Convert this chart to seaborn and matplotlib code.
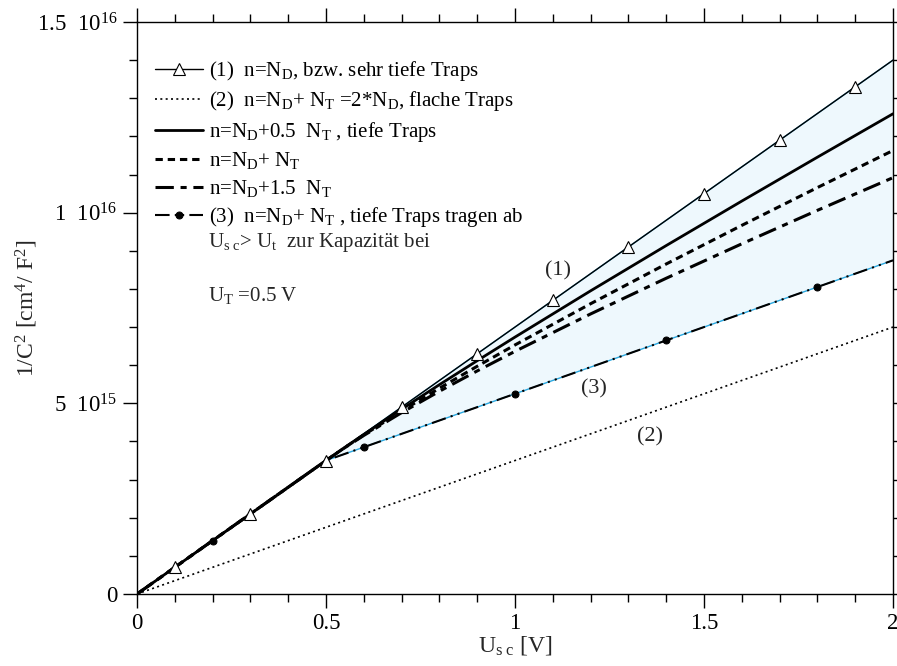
import numpy as np
import pandas as pd
import matplotlib
matplotlib.use("Agg")
import matplotlib.pyplot as plt
from matplotlib.ticker import MultipleLocator
import seaborn as sns

# ---- data (1/C^2 in units of 1e15 cm^4/F^2, U_sc in V) ----
x_nd = [0.0, 0.1, 0.3, 0.5, 0.7, 0.9, 1.1, 1.3, 1.5, 1.7, 1.9, 2.0]
y_nd = [0.0, 0.7, 2.1, 3.5, 4.9, 6.3, 7.7, 9.1, 10.5, 11.9, 13.3, 14.0]

x_flat = [0.0, 2.0]
y_flat = [0.0, 7.0]

x_deep = [0.0, 0.5, 0.55, 0.6, 0.7, 0.8, 0.9, 1.0, 1.2, 1.4, 1.6, 1.8, 2.0]
y_05 = [0.0, 3.5, 3.846, 4.185, 4.845, 5.489, 6.118, 6.737, 7.950, 9.137, 10.304, 11.455, 12.593]
y_10 = [0.0, 3.5, 3.842, 4.171, 4.798, 5.396, 5.972, 6.531, 7.612, 8.654, 9.667, 10.658, 11.630]
y_15 = [0.0, 3.5, 3.838, 4.158, 4.756, 5.316, 5.850, 6.363, 7.344, 8.280, 9.183, 10.061, 10.918]

x_3 = [0.0, 0.2, 0.5, 0.6, 1.0, 1.4, 1.8, 2.0]
y_3 = [0.0, 1.4, 3.5, 3.85, 5.25, 6.65, 8.05, 8.75]

labels = [
    r"(1)  n=N$_\mathrm{D}$, bzw. sehr tiefe Traps",
    r"(2)  n=N$_\mathrm{D}$+ N$_\mathrm{T}$ =2*N$_\mathrm{D}$, flache Traps",
    r"n=N$_\mathrm{D}$+0.5  N$_\mathrm{T}$ , tiefe Traps",
    r"n=N$_\mathrm{D}$+ N$_\mathrm{T}$",
    r"n=N$_\mathrm{D}$+1.5  N$_\mathrm{T}$",
    r"(3)  n=N$_\mathrm{D}$+ N$_\mathrm{T}$ , tiefe Traps tragen ab",
]
SCALE = 1e15

sns.set_style("ticks")
plt.rcParams["font.family"] = ["Liberation Serif", "DejaVu Serif"]
plt.rcParams["mathtext.fontset"] = "custom"
plt.rcParams["mathtext.rm"] = "Liberation Serif"
plt.rcParams["mathtext.it"] = "Liberation Serif:italic"
plt.rcParams["mathtext.bf"] = "Liberation Serif:bold"

fig = plt.figure(figsize=(8.97, 6.66), dpi=100)
ax = fig.add_axes([137 / 897, 72 / 666, 756 / 897, 572 / 666])

def df(x, y):
    return pd.DataFrame({"x": np.asarray(x, float), "y": np.asarray(y, float) * SCALE})

cyan = "#2aa8e0"
fillc = "#eef8fd"

# shaded region between (1) and (3) for U > U_T
xf = np.asarray(x_3[2:], float)
up = np.interp(xf, x_nd, y_nd) * SCALE
lo = np.asarray(y_3[2:], float) * SCALE
ax.fill_between(xf, lo, up, facecolor=fillc, edgecolor="none", zorder=1)
sns.lineplot(data=df(xf, np.interp(xf, x_nd, y_nd)), x="x", y="y", ax=ax, color=cyan, lw=1.0, zorder=2)
sns.lineplot(data=df(xf, y_3[2:]), x="x", y="y", ax=ax, color=cyan, lw=1.0, zorder=2)

sns.lineplot(data=df(x_nd, y_nd), x="x", y="y", ax=ax, color="black", lw=1.0,
             marker="^", markersize=8, markerfacecolor="white", markeredgecolor="black",
             markeredgewidth=0.8, markevery=list(range(1, 11)), label=labels[0], zorder=5)
sns.lineplot(data=df(x_flat, y_flat), x="x", y="y", ax=ax, color="black", lw=1.2,
             linestyle=(0, (1.2, 2.0)), label=labels[1], zorder=4)
sns.lineplot(data=df(x_deep, y_05), x="x", y="y", ax=ax, color="black", lw=2.0,
             label=labels[2], zorder=4)
sns.lineplot(data=df(x_deep, y_10), x="x", y="y", ax=ax, color="black", lw=2.2,
             linestyle=(0, (2.4, 1.6)), label=labels[3], zorder=4)
sns.lineplot(data=df(x_deep, y_15), x="x", y="y", ax=ax, color="black", lw=2.2,
             linestyle=(0, (6, 2.2, 2, 2.2)), label=labels[4], zorder=4)
sns.lineplot(data=df(x_3, y_3), x="x", y="y", ax=ax, color="black", lw=1.5,
             linestyle=(0, (7, 2.5, 1, 2.5, 1, 2.5)), marker="o", markersize=5,
             markerfacecolor="black", markeredgecolor="black",
             markevery=[1, 3, 4, 5, 6], label=labels[5], zorder=4)

ax.set_xlim(0, 2)
ax.set_ylim(0, 1.5e16)
ax.xaxis.set_major_locator(MultipleLocator(0.5))
ax.xaxis.set_minor_locator(MultipleLocator(0.1))
ax.set_xticks([0, 0.5, 1, 1.5, 2], ["0", "0.5", "1", "1.5", "2"])
ax.set_yticks([0, 5e15, 1e16, 1.5e16],
              ["0", r"5  10$^{15}$", r"1  10$^{16}$", r"1.5  10$^{16}$"])
ax.yaxis.set_minor_locator(MultipleLocator(1e15))
ax.tick_params(which="both", direction="out", top=True, right=True, width=1.0,
               labelsize=16.5, colors="black")
ax.tick_params(which="major", length=10, pad=4)
ax.tick_params(which="minor", length=6)
for s in ax.spines.values():
    s.set_linewidth(1.0)
    s.set_color("black")
    s.set_visible(True)
ax.set_xlabel(r"U$_\mathrm{s\ c}$ [V]", fontsize=17, labelpad=0)
ax.set_ylabel(r"1/C$^2$ [cm$^4$/ F$^2$]", fontsize=17)
ax.yaxis.set_label_coords((40 - 137) / 756, 0.5)

leg = ax.legend(loc="upper left", bbox_to_anchor=((155 - 137) / 756, (594 - 59) / 572),
                frameon=False, fontsize=15, handlelength=2.3, handletextpad=0.3,
                labelspacing=0.31, borderpad=0, borderaxespad=0)
for t in leg.get_texts():
    t.set_color("black")

ax.text((208 - 137) / 756, (594 - 247) / 572,
        r"U$_\mathrm{s\ c}$> U$_\mathrm{t}$  zur Kapazität bei",
        transform=ax.transAxes, fontsize=15, va="baseline", ha="left")
ax.text((208 - 137) / 756, (594 - 301) / 572, r"U$_\mathrm{T}$ =0.5 V",
        transform=ax.transAxes, fontsize=15, va="baseline", ha="left")

ax.text(1.114, 8.47e15, "(1)", fontsize=16, ha="center", va="center")
ax.text(1.209, 5.38e15, "(3)", fontsize=16, ha="center", va="center")
ax.text(1.357, 4.12e15, "(2)", fontsize=16, ha="center", va="center")

fig.savefig("out.png", dpi=100)
